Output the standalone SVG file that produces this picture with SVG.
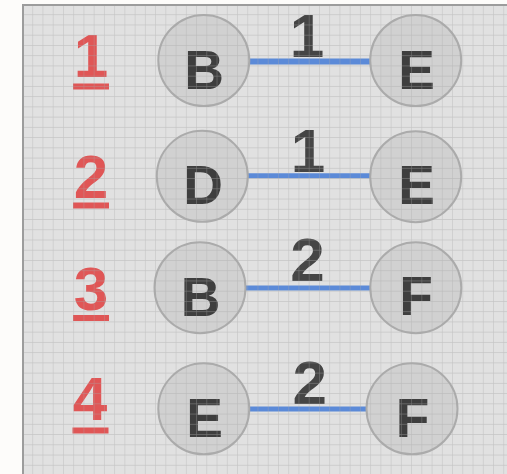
<svg xmlns="http://www.w3.org/2000/svg" width="507" height="474" viewBox="0 0 507 474">
<style>
.node circle{fill:#d1d1d1;stroke:#ababab;stroke-width:2}
.node text{font-family:"Liberation Sans",Arial,sans-serif;font-weight:bold;font-size:55px;fill:#3e3e3e;text-anchor:middle}
.edge line{stroke:#5b8ad8;stroke-width:5}
.elabel{font-family:"Liberation Sans",Arial,sans-serif;font-weight:bold;font-size:62px;fill:#454545;text-anchor:middle}
.idx text{font-family:"Liberation Sans",Arial,sans-serif;font-weight:bold;font-size:62px;fill:#e05656;text-anchor:middle}
.idx rect{fill:#e05656}
</style>
<defs>
<pattern id="grid" x="22" y="4" width="10.24" height="10.24" patternUnits="userSpaceOnUse">
<path d="M0 0H10.24M0 0V10.24" fill="none" stroke="#a8a8a8" stroke-width="1.2"/>
</pattern>
</defs>
<rect width="507" height="474" fill="#fdfcfa"/>
<rect x="22" y="4" width="490" height="475" fill="#e1e1e1"/>
<g id="indices" class="idx">
<g id="idx1"><text x="91" y="76.5">1</text><rect x="73" y="83.5" width="36" height="6"/></g>
<g id="idx2"><text x="91" y="198">2</text><rect x="73" y="202.5" width="36" height="6"/></g>
<g id="idx3"><text x="91" y="310">3</text><rect x="73" y="315" width="36" height="6"/></g>
<g id="idx4"><text x="90" y="420">4</text><rect x="72.5" y="427.5" width="36" height="6"/></g>
</g>
<g id="connectors" class="edge">
<line x1="249" y1="61.5" x2="370" y2="61.5" style="stroke-width:6"/>
<line x1="248" y1="175.7" x2="370" y2="175.7"/>
<line x1="246" y1="288" x2="370" y2="288"/>
<line x1="249" y1="409" x2="366" y2="409"/>
</g>
<g id="edge-labels">
<text class="elabel" x="307" y="57">1</text>
<text class="elabel" x="308" y="171.7">1</text>
<text class="elabel" x="307.5" y="281">2</text>
<text class="elabel" x="309.7" y="404.3">2</text>
</g>
<g id="n1B" class="node"><circle cx="203.8" cy="60.5" r="45.5"/><text x="204" y="89.3">B</text></g>
<g id="n1E" class="node"><circle cx="415.7" cy="60.5" r="45.5"/><text x="416.7" y="88.7">E</text></g>
<g id="n2D" class="node"><circle cx="202.3" cy="176.3" r="45.5"/><text x="203" y="204">D</text></g>
<g id="n2E" class="node"><circle cx="415.7" cy="176.7" r="45.5"/><text x="416.7" y="204">E</text></g>
<g id="n3B" class="node"><circle cx="200" cy="287.7" r="45.5"/><text x="200.5" y="316">B</text></g>
<g id="n3F" class="node"><circle cx="415.8" cy="287.7" r="45.5"/><text x="416" y="315.3">F</text></g>
<g id="n4E" class="node"><circle cx="203.8" cy="408.8" r="45.5"/><text x="204.6" y="436.7">E</text></g>
<g id="n4F" class="node"><circle cx="412" cy="408.8" r="45.5"/><text x="412.5" y="436.7">F</text></g>
<rect x="22" y="4" width="490" height="475" fill="url(#grid)" opacity="0.5"/>
<path d="M23 480V5H512" fill="none" stroke="#9c9c9c" stroke-width="2"/>
</svg>
